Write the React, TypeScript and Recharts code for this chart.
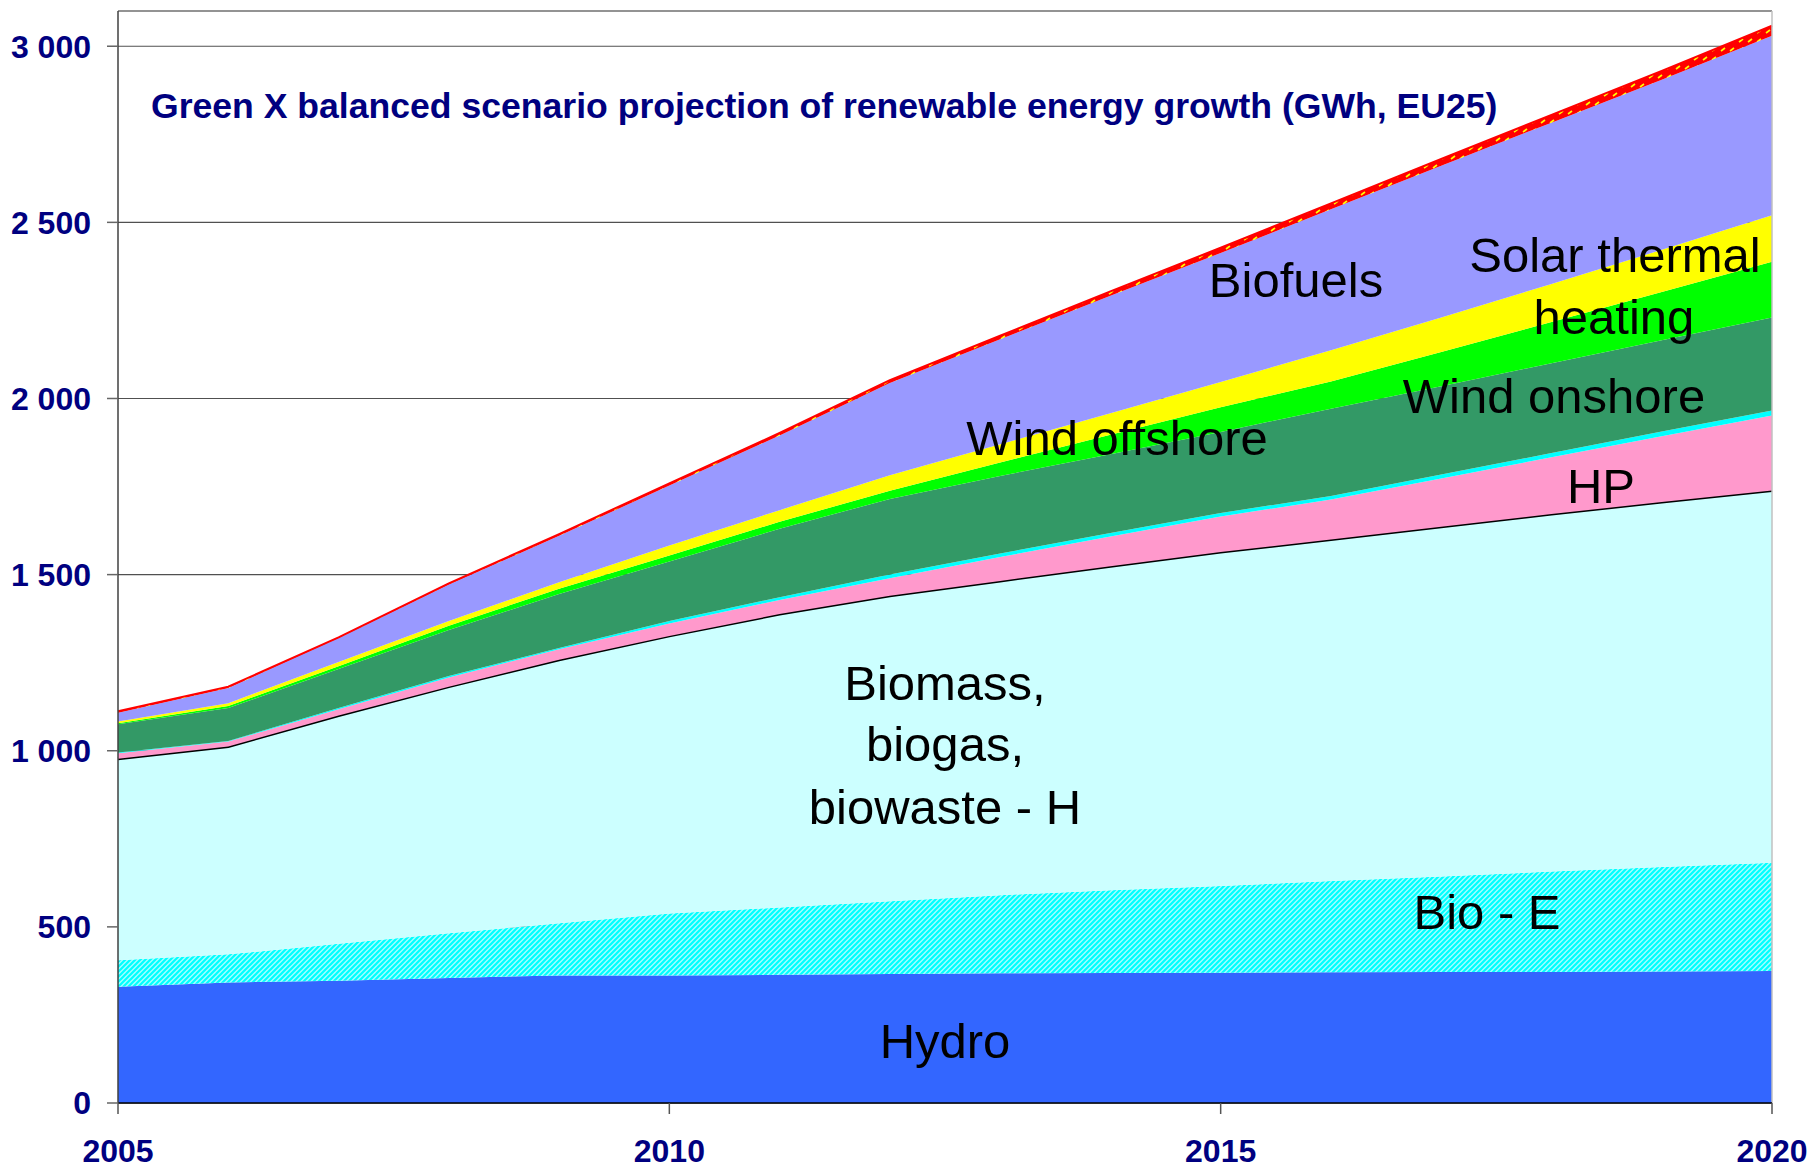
import React from "react";
import { AreaChart, Area, XAxis, YAxis, CartesianGrid, ReferenceLine } from "recharts";

const years = [2005, 2006, 2007, 2008, 2009, 2010, 2011, 2012, 2013, 2014, 2015, 2016, 2017, 2018, 2019, 2020];
const hydro = [330, 342, 347, 355, 362, 362, 364, 366, 368, 369, 370, 371, 372, 372, 373, 375];
const bioE = [75, 80, 105, 127, 148, 176, 191, 207, 222, 235, 246, 259, 271, 285, 297, 307];
const bioH = [572, 590, 648, 700, 748, 788, 833, 867, 892, 920, 948, 970, 993, 1015, 1036, 1057];
const heatPumps = [16, 14, 18, 26, 30, 35, 40, 50, 68, 84, 101, 113, 137, 161, 187, 213];
const geothermal = [2, 2, 3, 4, 4, 7, 8, 10, 10, 10, 10, 10, 11, 12, 13, 14];
const windOnshore = [80, 93, 111, 131, 153, 169, 194, 215, 220, 224, 230, 248, 251, 255, 259, 264];
const windOffshore = [3, 6, 8, 12, 15, 17, 20, 23, 38, 55, 70, 77, 97, 117, 137, 158];
const solarThermal = [5, 8, 12, 13, 18, 29, 33, 44, 52, 61, 72, 89, 98, 108, 120, 132];
const biofuels = [25, 43, 68, 104, 132, 170, 212, 262, 298, 334, 366, 400, 431, 458, 483, 510];
const otherRes = [4, 4, 2, 3, 5, 6, 7, 8, 10, 12, 15, 17, 19, 22, 25, 28];

const yTicks = [0, 500, 1000, 1500, 2000, 2500, 3000];
const xTicks = [2005, 2010, 2015, 2020];

const title = "Green X balanced scenario projection of renewable energy growth (GWh, EU25)";

const data = years.map((year, i) => ({
  year,
  hydro: hydro[i],
  bioE: bioE[i],
  bioH: bioH[i],
  hp: heatPumps[i],
  geo: geothermal[i],
  onshore: windOnshore[i],
  offshore: windOffshore[i],
  solar: solarThermal[i],
  biofuels: biofuels[i],
  other: otherRes[i],
}));

const FONT = '"Liberation Sans", Arial, sans-serif';
const tickStyle = { fill: "#000080", fontSize: 32, fontWeight: "bold", fontFamily: FONT };
const fmt = (v: number) => (v >= 1000 ? `${Math.floor(v / 1000)} ${String(v % 1000).padStart(3, "0")}` : String(v));

const labels: { t: string; x: number; y: number }[] = [
  { t: "Biofuels", x: 1296, y: 297 },
  { t: "Solar thermal", x: 1615, y: 272 },
  { t: "heating", x: 1614, y: 334 },
  { t: "Wind onshore", x: 1554, y: 413 },
  { t: "Wind offshore", x: 1117, y: 455 },
  { t: "HP", x: 1601, y: 503 },
  { t: "Biomass,", x: 945, y: 700 },
  { t: "biogas,", x: 945, y: 761 },
  { t: "biowaste - H", x: 945, y: 824 },
  { t: "Bio - E", x: 1487, y: 929 },
  { t: "Hydro", x: 945, y: 1058 },
];

export default function App() {
  return (
    <div style={{ position: "absolute", left: 0, top: 0, width: 1812, height: 1168, background: "#fff" }}>
      <svg width={0} height={0} style={{ position: "absolute" }}>
        <defs>
          <pattern id="bioEPat" patternUnits="userSpaceOnUse" width={5} height={5}>
            <rect width={5} height={5} fill="#A8FFFF" />
            <path d="M-1.25,1.25 l2.5,-2.5 M0,5 l5,-5 M3.75,6.25 l2.5,-2.5" stroke="#00FFFF" strokeWidth={2.2} />
          </pattern>
          <pattern id="otherPat" patternUnits="userSpaceOnUse" width={9} height={9}>
            <rect width={9} height={9} fill="#FF0000" />
            <path d="M2,6 l4,-3" stroke="#FFFF00" strokeWidth={1.6} />
          </pattern>
        </defs>
      </svg>
      <AreaChart width={1812} height={1168} data={data} margin={{ top: 11, right: 40, bottom: 5, left: 0 }}>
        <CartesianGrid vertical={false} horizontal={true} stroke="#505050" strokeWidth={1.2} />
        <XAxis
          dataKey="year"
          type="number"
          domain={[2005, 2020]}
          ticks={xTicks}
          height={60}
          tickSize={11}
          tickMargin={25}
          tick={tickStyle}
          axisLine={{ stroke: "#000", strokeWidth: 1.5 }}
          tickLine={{ stroke: "#555", strokeWidth: 1.5 }}
          interval={0}
        />
        <YAxis
          type="number"
          domain={[0, 3100]}
          ticks={yTicks}
          width={118}
          tickSize={11}
          tickMargin={16}
          tick={tickStyle}
          tickFormatter={fmt}
          axisLine={{ stroke: "#404040", strokeWidth: 1.5 }}
          tickLine={{ stroke: "#666", strokeWidth: 1.5 }}
          interval={0}
        />
        <Area type="linear" dataKey="hydro" stackId="1" fill="#3366FF" fillOpacity={1} stroke="none" isAnimationActive={false} />
        <Area type="linear" dataKey="bioE" stackId="1" fill="url(#bioEPat)" fillOpacity={1} stroke="none" isAnimationActive={false} />
        <Area type="linear" dataKey="bioH" stackId="1" fill="#CCFFFF" fillOpacity={1} stroke="#000" strokeWidth={3} isAnimationActive={false} />
        <Area type="linear" dataKey="hp" stackId="1" fill="#FF99CC" fillOpacity={1} stroke="none" isAnimationActive={false} />
        <Area type="linear" dataKey="geo" stackId="1" fill="#00FFFF" fillOpacity={1} stroke="none" isAnimationActive={false} />
        <Area type="linear" dataKey="onshore" stackId="1" fill="#339966" fillOpacity={1} stroke="none" isAnimationActive={false} />
        <Area type="linear" dataKey="offshore" stackId="1" fill="#00FF00" fillOpacity={1} stroke="none" isAnimationActive={false} />
        <Area type="linear" dataKey="solar" stackId="1" fill="#FFFF00" fillOpacity={1} stroke="none" isAnimationActive={false} />
        <Area type="linear" dataKey="biofuels" stackId="1" fill="#9999FF" fillOpacity={1} stroke="none" isAnimationActive={false} />
        <Area type="linear" dataKey="other" stackId="1" fill="url(#otherPat)" fillOpacity={1} stroke="#FF0000" strokeWidth={2} isAnimationActive={false} />
        <ReferenceLine y={3100} stroke="#8c8c8c" strokeWidth={1.5} ifOverflow="extendDomain" />
        <ReferenceLine x={2020} stroke="#c0c0c0" strokeWidth={1.5} />
      </AreaChart>
      <svg width={1812} height={1168} style={{ position: "absolute", left: 0, top: 0, pointerEvents: "none" }}>
        <text x={151} y={117.5} fontFamily={FONT} fontSize={35.6} fontWeight="bold" fill="#000080">
          {title}
        </text>
        {labels.map((l) => (
          <text key={l.t} x={l.x} y={l.y} fontFamily={FONT} fontSize={49} fill="#000" textAnchor="middle">
            {l.t}
          </text>
        ))}
      </svg>
    </div>
  );
}
